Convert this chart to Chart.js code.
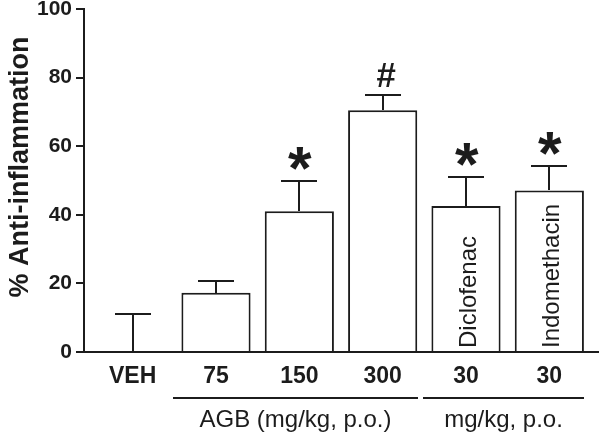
<!DOCTYPE html>
<html>
<head>
<meta charset="utf-8">
<script src="https://cdn.jsdelivr.net/npm/chart.js@4.4.1/dist/chart.umd.min.js"></script>
<style>
  html, body { margin: 0; padding: 0; background: #fff; }
  #wrap { width: 600px; height: 434px; }
</style>
</head>
<body>
<div id="wrap"><canvas id="effectChart" width="600" height="434"></canvas></div>
<script>
// values
const categories = ['VEH', '75', '150', '300', '30', '30'];
const meanValues = [0, 17.3, 41.0, 70.5, 42.6, 47.1];
const semValues = [11.2, 3.5, 9.0, 4.4, 8.3, 7.0];
const signifMarks = ['', '', '*', '#', '*', '*'];
const barNames = ['', '', '', '', 'Diclofenac', 'Indomethacin'];
const yTicks = [0, 20, 40, 60, 80, 100];
const groupLabels = ['AGB (mg/kg, p.o.)', 'mg/kg, p.o.'];
const groupFirst = [1, 4];
const groupLast = [3, 5];
const yTitle = '% Anti-inflammation';

const INK = '#1c1c1c';
const FAMILY = "'Liberation Sans', Arial, sans-serif";

// draw a glyph so that its ink box is centred on (cx, cy) with given height
function drawCenteredGlyph(ctx, text, cx, cy, inkHeight) {
    ctx.font = 'bold 100px ' + FAMILY;
    let m = ctx.measureText(text);
    const size = 100 * inkHeight / (m.actualBoundingBoxAscent + m.actualBoundingBoxDescent);
    ctx.font = 'bold ' + size.toFixed(1) + 'px ' + FAMILY;
    m = ctx.measureText(text);
    ctx.textAlign = 'left';
    ctx.textBaseline = 'alphabetic';
    const x = cx - (m.actualBoundingBoxRight - m.actualBoundingBoxLeft) / 2;
    const y = cy + (m.actualBoundingBoxAscent - m.actualBoundingBoxDescent) / 2;
    ctx.fillText(text, x, y);
}

const extrasPlugin = {
    id: 'extras',
    afterDatasetsDraw(chart) {
        const ctx = chart.ctx;
        const xs = chart.scales.x;
        const ys = chart.scales.y;
        const y0 = ys.getPixelForValue(0);
        ctx.save();
        ctx.strokeStyle = INK;
        ctx.fillStyle = INK;
        ctx.lineWidth = 2;
        meanValues.forEach((m, i) => {
            const cx = Math.round(xs.getPixelForValue(i));
            const yBase = Math.round(ys.getPixelForValue(m));
            const yTop = Math.round(ys.getPixelForValue(m + semValues[i]));
            // error bar (upper only)
            ctx.beginPath();
            ctx.moveTo(cx, yBase);
            ctx.lineTo(cx, yTop);
            ctx.moveTo(cx - 18, yTop);
            ctx.lineTo(cx + 18, yTop);
            ctx.stroke();
            // significance marks
            if (signifMarks[i] === '*') {
                drawCenteredGlyph(ctx, '*', cx + 1, yTop - 23, 23);
            } else if (signifMarks[i] === '#') {
                drawCenteredGlyph(ctx, '#', cx + 3, yTop - 20, 24);
            }
            // drug names inside bars
            if (barNames[i]) {
                ctx.save();
                ctx.translate(cx + 10, y0 - 4);
                ctx.rotate(-Math.PI / 2);
                ctx.font = '24px ' + FAMILY;
                ctx.textAlign = 'left';
                ctx.textBaseline = 'alphabetic';
                ctx.fillText(barNames[i], 0, 0);
                ctx.restore();
            }
        });
        ctx.restore();
    },
    afterDraw(chart) {
        const ctx = chart.ctx;
        const xs = chart.scales.x;
        ctx.save();
        ctx.strokeStyle = INK;
        ctx.fillStyle = INK;
        ctx.lineWidth = 2;
        // group lines and labels under the axis
        groupLabels.forEach((label, g) => {
            const x1 = Math.round(xs.getPixelForValue(groupFirst[g] - 0.52));
            const x2 = Math.round(xs.getPixelForValue(groupLast[g] + 0.42));
            ctx.beginPath();
            ctx.moveTo(x1, 398);
            ctx.lineTo(x2, 398);
            ctx.stroke();
            ctx.font = '24px ' + FAMILY;
            ctx.textAlign = 'center';
            ctx.textBaseline = 'middle';
            ctx.fillText(label, (x1 + x2) / 2, 420);
        });
        // y axis title
        ctx.save();
        ctx.translate(21, 167);
        ctx.rotate(-Math.PI / 2);
        ctx.font = 'bold 27px ' + FAMILY;
        ctx.textAlign = 'center';
        ctx.textBaseline = 'middle';
        ctx.fillText(yTitle, 0, 0);
        ctx.restore();
        ctx.restore();
    }
};

new Chart(document.getElementById('effectChart'), {
    type: 'bar',
    data: {
        datasets: [{
            data: meanValues.map((v, i) => ({ x: i, y: v })),
            backgroundColor: '#ffffff',
            borderColor: INK,
            borderWidth: 2,
            borderSkipped: 'start',
            categoryPercentage: 0.83,
            barPercentage: 1
        }]
    },
    options: {
        responsive: false,
        devicePixelRatio: 1,
        animation: false,
        layout: {
            padding: { top: 9, right: 2, bottom: 0, left: 0 }
        },
        plugins: {
            legend: { display: false },
            tooltip: { enabled: false }
        },
        scales: {
            x: {
                type: 'linear',
                offset: false,
                min: -0.584,
                max: 5.584,
                afterBuildTicks: s => { s.ticks = categories.map((c, i) => ({ value: i })); },
                afterFit: s => { s.height = 82; s.paddingLeft = 0; s.paddingRight = 0; },
                ticks: {
                    autoSkip: false,
                    maxRotation: 0,
                    padding: 11,
                    color: INK,
                    font: { family: FAMILY, size: 23, weight: 'bold' },
                    callback: function(value) {
                        return categories[value] !== undefined ? categories[value] : '';
                    }
                },
                grid: { display: false, drawTicks: false, offset: false },
                border: { display: true, color: INK, width: 2 }
            },
            y: {
                min: 0,
                max: 100,
                afterBuildTicks: s => { s.ticks = yTicks.map(v => ({ value: v })); },
                afterFit: s => { s.width = 84; s.paddingTop = 0; s.paddingBottom = 0; },
                ticks: {
                    padding: 4,
                    color: INK,
                    font: { family: FAMILY, size: 21, weight: 'bold' }
                },
                grid: {
                    display: true,
                    drawOnChartArea: false,
                    drawTicks: true,
                    tickLength: 8,
                    color: INK,
                    lineWidth: 2
                },
                border: { display: true, color: INK, width: 2 }
            }
        }
    },
    plugins: [extrasPlugin]
});
</script>
</body>
</html>
